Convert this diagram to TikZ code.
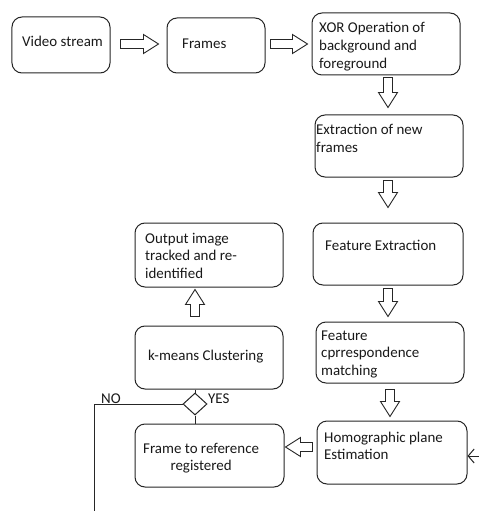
\documentclass[tikz,border=0pt]{standalone}
\usepackage{fontspec}
\setmainfont{Carlito}
\usetikzlibrary{shapes.geometric,arrows.meta,calc}
\newcommand\mylines[1]{\begin{tabular}[t]{@{}l@{}}#1\end{tabular}}
\newcommand\mylinesc[1]{\begin{tabular}[t]{@{}c@{}}#1\end{tabular}}
\newcommand\blockarrow[3]{%
  \draw[blockarr, shift={#1}, rotate=#2] (0,-4.5) -- ({#3-15},-4.5) -- ({#3-15},-9.5) -- (#3,0)
    -- ({#3-15},9.5) -- ({#3-15},4.5) -- (0,4.5) -- cycle;}
\begin{document}
\begin{tikzpicture}[x=1bp,y=-1bp,
  box/.style={draw=black!85, rounded corners=10bp, line width=1bp, inner sep=0pt},
  txt/.style={inner sep=0pt, anchor=base west, text=black!90, font=\fontsize{15}{18}\selectfont},
  blockarr/.style={draw=black!85, line width=0.9bp, fill=white},
  conn/.style={draw=black!85, line width=1bp},
  dec/.style={draw=black!85, line width=1bp, diamond, inner sep=0pt, minimum width=24bp, minimum height=22bp}]
\useasboundingbox[fill=white] (0,0) rectangle (479,511);
% boxes
\node[box, minimum width=98bp, minimum height=56bp] (vs) at (61,45) {};
\node[box, minimum width=98bp, minimum height=55bp] (fr) at (216,45.5) {};
\node[box, minimum width=148bp, minimum height=62bp] (xor) at (386,44) {};
\node[box, minimum width=148bp, minimum height=62bp] (ext) at (389,146) {};
\node[box, minimum width=150bp, minimum height=62bp] (fe) at (388,254) {};
\node[box, minimum width=148bp, minimum height=61bp] (fcm) at (390,352.5) {};
\node[box, minimum width=150bp, minimum height=63bp] (homo) at (392,452.5) {};
\node[box, minimum width=149bp, minimum height=63bp] (ftr) at (209.5,455.5) {};
\node[box, minimum width=148bp, minimum height=63bp] (km) at (209,357.5) {};
\node[box, minimum width=148bp, minimum height=64bp] (out) at (209,255) {};
% texts
\node[txt] (tvs) at (22,47) {Video stream};
\node[txt] (tfr) at (182,49) {Frames};
\node[txt] (txor) at (319,33) {\mylines{XOR Operation of\\background and\\foreground}};
\node[txt] (text) at (316,135) {\mylines{Extraction of new\\frames}};
\node[txt] (tfe) at (325,250) {Feature Extraction};
\node[txt] (tout) at (145,243) {\mylines{Output image\\tracked and re-\\identified}};
\node[txt] (tfcm) at (321,340) {\mylines{Feature\\cprrespondence\\matching}};
\node[txt] (thomo) at (324,442) {\mylines{Homographic plane\\Estimation}};
\node[txt] (tftr) at (143,453) {\mylinesc{Frame to reference\\registered}};
\node[txt] (tkm) at (148,360) {k-means Clustering};
% decision
\node[dec] (dia) at (195,404) {};
\node[txt] (tno) at (101,403) {NO};
\node[txt] (tyes) at (208,403) {YES};
\draw[conn] (dia |- km.south) -- (dia.north);
\draw[conn] (dia.south) -- (dia |- ftr.north);
\coordinate (nob) at (94,511);
\draw[conn] (dia.west) -- (nob |- dia.west) -- (nob);
% incoming arrow from right
\coordinate (rin) at (479,456);
\draw[conn, -{Straight Barb[length=6bp,width=14bp]}] (rin) -- (homo.east |- rin);
% block arrows
\blockarrow{($(vs.east)+(10,-1)$)}{0}{38}
\blockarrow{($(fr.east)+(5,-1.5)$)}{0}{37}
\blockarrow{($(xor.south)+(2,2)$)}{-90}{30}
\blockarrow{($(ext.south)+(-1,3)$)}{-90}{27}
\blockarrow{($(fe.south)+(0,3)$)}{-90}{28}
\blockarrow{($(fcm.south)+(0,6)$)}{-90}{27}
\blockarrow{($(homo.west |- 0,447)+(-4,0)$)}{180}{27}
\blockarrow{($(dia |- km.north)+(0,-9)$)}{90}{27}
\end{tikzpicture}
\end{document}
